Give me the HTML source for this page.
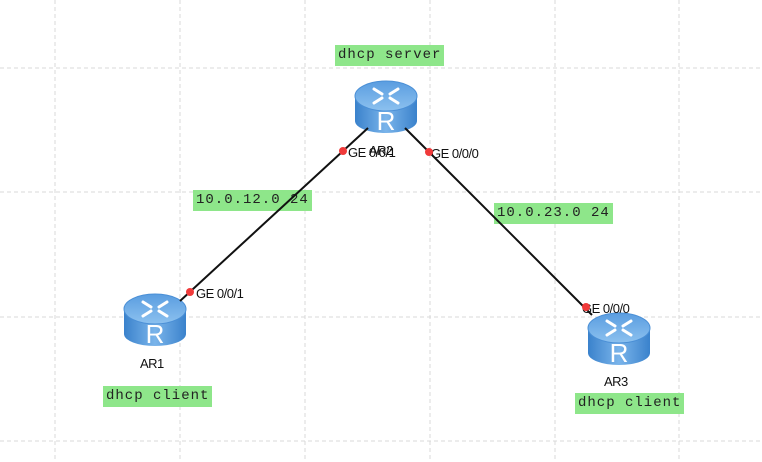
<!DOCTYPE html>
<html><head><meta charset="utf-8"><style>
body{margin:0;width:762px;height:462px;background:#fff;position:relative;overflow:hidden;font-family:"Liberation Sans",sans-serif}
.lbl{position:absolute;background:#8ee68a;font-family:"Liberation Mono",monospace;font-size:14px;letter-spacing:1px;color:#222;line-height:21px;padding:0 3px;white-space:pre}
.t{position:absolute;font-size:13px;color:#111;letter-spacing:-0.5px}
</style></head><body>
<svg width="762" height="462" style="position:absolute;left:0;top:0">
<defs>
<linearGradient id="b" x1="0" x2="1"><stop offset="0" stop-color="#3a82cc"/><stop offset="0.5" stop-color="#7ab4ea"/><stop offset="1" stop-color="#3a82cc"/></linearGradient>
<linearGradient id="tp" x1="0" y1="0" x2="0" y2="1"><stop offset="0" stop-color="#5a9de0"/><stop offset="1" stop-color="#8cc1ef"/></linearGradient>
<g id="r">
<path d="M0 17 L0 42 A31 12 0 0 0 62 42 L62 17 Z" fill="url(#b)"/>
<ellipse cx="31" cy="17" rx="31" ry="15" fill="url(#tp)" stroke="#4a8fd6" stroke-width="1"/>
<g stroke="#fff" stroke-width="3" fill="none" stroke-linecap="round">
<path d="M19 10 L27 15 M43 10 L35 15 M19 24 L27 19 M43 24 L35 19"/>
</g>
<text x="31" y="51" text-anchor="middle" font-family="Liberation Sans" font-size="26" fill="#fff">R</text>
</g>
</defs>
<g stroke="#d8d8d8" stroke-dasharray="4,3" stroke-width="1">
<line x1="55" y1="0" x2="55" y2="462"/><line x1="180" y1="0" x2="180" y2="462"/><line x1="305" y1="0" x2="305" y2="462"/><line x1="430" y1="0" x2="430" y2="462"/><line x1="555" y1="0" x2="555" y2="462"/><line x1="679" y1="0" x2="679" y2="462"/>
<line x1="0" y1="68" x2="762" y2="68"/><line x1="0" y1="192" x2="762" y2="192"/><line x1="0" y1="317" x2="762" y2="317"/><line x1="0" y1="441" x2="762" y2="441"/>
</g>
<use href="#r" x="355" y="79"/>
<use href="#r" x="124" y="292"/>
<use href="#r" x="588" y="311"/>
</svg>
<div class="lbl" style="left:335px;top:45px">dhcp server</div>
<div class="lbl" style="left:193px;top:190px">10.0.12.0 24</div>
<div class="lbl" style="left:494px;top:203px">10.0.23.0 24</div>
<div class="lbl" style="left:103px;top:386px">dhcp client</div>
<div class="lbl" style="left:575px;top:393px">dhcp client</div>
<div class="t" style="left:369px;top:143px">AR2</div>
<div class="t" style="left:140px;top:356px">AR1</div>
<div class="t" style="left:604px;top:374px">AR3</div>
<div class="t" style="left:348px;top:145px">GE 0/0/1</div>
<div class="t" style="left:431px;top:146px">GE 0/0/0</div>
<div class="t" style="left:196px;top:286px">GE 0/0/1</div>
<div class="t" style="left:582px;top:301px">GE 0/0/0</div>
<svg width="762" height="462" style="position:absolute;left:0;top:0">
<line x1="180" y1="301" x2="368" y2="128" stroke="#111" stroke-width="2"/>
<line x1="405" y1="128" x2="592" y2="315" stroke="#111" stroke-width="2"/>
<g fill="#f03a3a"><circle cx="190" cy="292" r="4"/><circle cx="343" cy="151" r="4"/><circle cx="429" cy="152" r="4"/><circle cx="586" cy="307" r="4"/></g>
</svg>
</body></html>
